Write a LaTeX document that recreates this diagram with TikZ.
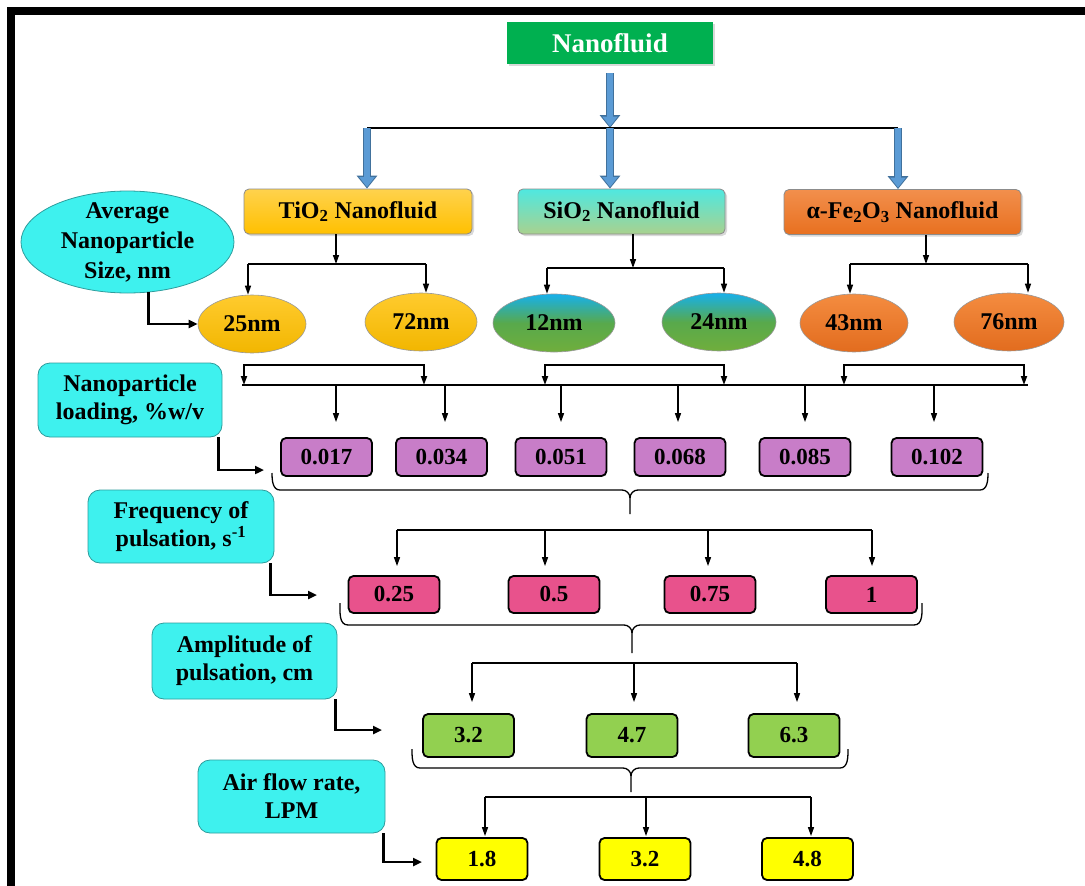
\documentclass[tikz,border=0pt]{standalone}
\usepackage{fontspec}
\setmainfont{Liberation Serif}
\usetikzlibrary{arrows.meta,shadows,shapes.geometric}

\definecolor{nfgreen}{HTML}{00B050}
\definecolor{labcyan}{HTML}{3EF1EE}
\definecolor{labedge}{HTML}{2E9C9C}
\definecolor{arrblue}{HTML}{5B9BD5}
\definecolor{arredge}{HTML}{41719C}
\definecolor{titop}{HTML}{FFD24D}
\definecolor{tibot}{HTML}{FFC000}
\definecolor{sitop}{HTML}{4FE8E0}
\definecolor{sibot}{HTML}{A9D18E}
\definecolor{fetop}{HTML}{F28F4C}
\definecolor{febot}{HTML}{E8701F}
\definecolor{eyeltop}{HTML}{FFCB2E}
\definecolor{eyelbot}{HTML}{F2B600}
\definecolor{ebluetop}{HTML}{16B0EC}
\definecolor{ebluemid}{HTML}{58A94C}
\definecolor{ebluebot}{HTML}{70AE3C}
\definecolor{eorgtop}{HTML}{F48C40}
\definecolor{eorgbot}{HTML}{E26C1E}
\definecolor{loadpur}{HTML}{C87DC8}
\definecolor{freqpink}{HTML}{E8528C}
\definecolor{ampgreen}{HTML}{92D050}
\definecolor{airyel}{HTML}{FFFF00}

\begin{document}
\begin{tikzpicture}[x=1pt,y=-1pt]
	\tikzstyle{every node}=[font=\bfseries\fontsize{24}{28}\selectfont, align=center, inner sep=0pt]
	\tikzstyle{param}=[rounded corners=12pt, fill=labcyan, draw=labedge, line width=0.8pt]
	\tikzstyle{fluid}=[rounded corners=5pt, draw=black!45, line width=0.8pt, minimum height=45pt, drop shadow={opacity=0.3, shadow xshift=2pt, shadow yshift=-2pt}]
	\tikzstyle{size}=[ellipse, draw=black!40, line width=0.6pt, minimum height=58pt]
	\tikzstyle{val}=[rounded corners=5pt, draw=black, line width=1.8pt, minimum width=91pt, font=\bfseries\fontsize{23}{28}\selectfont]
	\tikzstyle{arr}=[-{Triangle[length=9pt,width=6pt]}, line width=1.4pt]
	\tikzstyle{darr}=[{Triangle[length=9pt,width=6pt]}-{Triangle[length=9pt,width=6pt]}, line width=1.8pt]
	\tikzstyle{bus}=[line width=2.4pt]
	\tikzstyle{brc}=[line width=1.3pt]
	\tikzstyle{larr}=[-{Triangle[length=9pt,width=8pt]}, line width=2.8pt]
	\tikzstyle{bluearr}=[draw=arrblue, line width=6pt, -{Triangle[length=10pt,width=15pt]}, shorten >=1.5pt, preaction={draw=arredge, line width=8pt, -{Triangle[length=13pt,width=20pt]}, shorten >=0pt}]

	\useasboundingbox (0,0) rectangle (1085,886);
	\begin{scope}
		\clip (0,0) rectangle (1085,886);
		\draw[line width=8pt] (11,11) rectangle (1100,900);
	\end{scope}

	% top
	\node[fill=nfgreen, text=white, minimum width=206pt, minimum height=42pt, font=\bfseries\fontsize{27}{32}\selectfont, drop shadow={opacity=0.3, shadow xshift=2pt, shadow yshift=-2pt}] (nf) at (610,43) {Nanofluid};
	\node[fluid, top color=titop, bottom color=tibot, minimum width=228pt] (ti) at (358,211.5) {TiO\textsubscript{2} Nanofluid};
	\node[fluid, top color=sitop, bottom color=sibot, minimum width=207pt] (si) at (621.5,211.5) {SiO\textsubscript{2} Nanofluid};
	\node[fluid, top color=fetop, bottom color=febot, minimum width=237pt] (fe) at (902.5,212) {α-Fe\textsubscript{2}O\textsubscript{3} Nanofluid};

	\coordinate (j0) at (610,128);
	\coordinate (b1) at (367,128);
	\coordinate (b3) at (898,128);
	\draw[bluearr] ([yshift=-9pt]nf.south) -- (j0);
	\draw[bus] (b1) -- (b3);
	\draw[bluearr] (b1) -- (b1 |- ti.north);
	\draw[bluearr] (j0) -- (j0 |- si.north);
	\draw[bluearr] (b3) -- (b3 |- fe.north);

	% sizes
	\node[ellipse, fill=labcyan, draw=labedge, line width=0.8pt, minimum width=213pt, minimum height=102pt] (avg) at (127.5,242) {};
	\node[font=\bfseries\fontsize{24}{30}\selectfont] (avgtxt) at (avg) {Average\\Nanoparticle\\Size, nm};

	\node[size, top color=eyeltop, bottom color=eyelbot, minimum width=108pt] (e1) at (252,324) {25nm};
	\node[size, top color=eyeltop, bottom color=eyelbot, minimum width=112pt] (e2) at (421,322) {72nm};
	\node[size, top color=ebluetop, bottom color=ebluebot, middle color=ebluemid, minimum width=122pt] (e3) at (554,323) {12nm};
	\node[size, top color=ebluetop, bottom color=ebluebot, middle color=ebluemid, minimum width=114pt] (e4) at (719,322) {24nm};
	\node[size, top color=eorgtop, bottom color=eorgbot, minimum width=108pt] (e5) at (854,323) {43nm};
	\node[size, top color=eorgtop, bottom color=eorgbot, minimum width=110pt] (e6) at (1009,322) {76nm};

	\foreach \src/\mx/\ax/\bx/\ly/\ea/\eb in {ti/336/248/426/264/e1/e2, si/633/547/724/268/e3/e4, fe/926/850/1028/264/e5/e6} {
		\coordinate (m\src) at (\mx,\ly);
		\coordinate (a\src) at (\ax,\ly);
		\coordinate (b\src) at (\bx,\ly);
		\draw[arr] (m\src |- \src.south) -- (m\src);
		\draw[bus] (a\src) -- (b\src);
		\draw[arr] (a\src) -- (a\src |- \ea.north);
		\draw[arr] (b\src) -- (b\src |- \eb.north);
	}
	\draw[larr] (avg.-67) |- (e1.west);

	% loading
	\node[param, minimum width=184pt, minimum height=74pt] (load) at (130,400) {Nanoparticle\\loading, \%w/v};
	\foreach \ax/\bx [count=\i] in {244/424, 545/724, 844/1024} {
		\coordinate (ua\i) at (\ax,385);
		\coordinate (ub\i) at (\bx,385);
		\draw[darr] (ua\i) -- ++(0,-20) -| (ub\i);
	}
	\coordinate (bl) at (242,385);
	\coordinate (br) at (1028,385);
	\draw[bus] (bl) -- (br);
	\foreach \v/\x [count=\i] in {0.017/326.5, 0.034/441.5, 0.051/561, 0.068/680, 0.085/805, 0.102/937}
		\node[val, fill=loadpur, minimum height=38pt] (p\i) at (\x,457) {\v};
	\foreach \x [count=\i] in {336,445,561,678,805,934} {
		\coordinate (d\i) at (\x,385);
		\draw[arr, shorten >=15pt] (d\i) -- (d\i |- p\i.north);
	}
	\coordinate (la) at (264,470);
	\draw[larr] ([xshift=-4pt]load.south east) |- (la);

	% braces
	\foreach \lx/\rx/\mx/\ey/\by/\ty in {272/988/630/473/490/514, 340/922/632/603/625/653, 412/848/631/749/768/792} {
		\draw[brc] (\lx,\ey) to[out=-90,in=180] ({\lx+8},\by) -- ({\mx-8},\by) to[out=0,in=90] (\mx,{\by+8}) -- (\mx,\ty);
		\draw[brc] (\rx,\ey) to[out=-90,in=0] ({\rx-8},\by) -- ({\mx+8},\by) to[out=180,in=90] (\mx,{\by+8});
	}

	% frequency
	\node[param, minimum width=186pt, minimum height=73pt] (freq) at (181,526.5) {Frequency of\\pulsation, s\textsuperscript{-1}};
	\foreach \v/\x [count=\i] in {0.25/394, 0.5/554, 0.75/710, 1/871.5}
		\node[val, fill=freqpink, minimum height=37pt] (q\i) at (\x,594.5) {\v};
	\foreach \x [count=\i] in {397,545,708,872}
		\coordinate (r\i) at (\x,530);
	\draw[bus] (r1) -- (r4);
	\foreach \i in {1,...,4}
		\draw[arr, shorten >=9pt] (r\i) -- (r\i |- q\i.north);
	\coordinate (lf) at (317,595);
	\draw[larr] ([xshift=-4pt]freq.south east) |- (lf);

	% amplitude
	\node[param, minimum width=185pt, minimum height=76pt] (amp) at (244.5,661) {Amplitude of\\pulsation, cm};
	\foreach \v/\x [count=\i] in {3.2/468.5, 4.7/632, 6.3/794}
		\node[val, fill=ampgreen, minimum height=43pt] (g\i) at (\x,735.5) {\v};
	\foreach \x [count=\i] in {472,634,797}
		\coordinate (s\i) at (\x,663);
	\draw[bus] (s1) -- (s3);
	\foreach \i in {1,...,3}
		\draw[arr, shorten >=11pt] (s\i) -- (s\i |- g\i.north);
	\coordinate (lam) at (382,730);
	\draw[larr] ([xshift=-2pt]amp.south east) |- (lam);

	% air flow
	\node[param, minimum width=187pt, minimum height=73pt] (air) at (291.5,796.5) {Air flow rate,\\LPM};
	\foreach \v/\x [count=\i] in {1.8/482, 3.2/645, 4.8/807.5}
		\node[val, fill=airyel, minimum height=42pt] (w\i) at (\x,859) {\v};
	\foreach \x [count=\i] in {485,646,811}
		\coordinate (c\i) at (\x,797);
	\draw[bus] (c1) -- (c3);
	\foreach \i in {1,...,3}
		\draw[arr, shorten >=1pt] (c\i) -- (c\i |- w\i.north);
	\coordinate (lair) at (422,862);
	\draw[larr] ([xshift=-2pt]air.south east) |- (lair);
\end{tikzpicture}
\end{document}
